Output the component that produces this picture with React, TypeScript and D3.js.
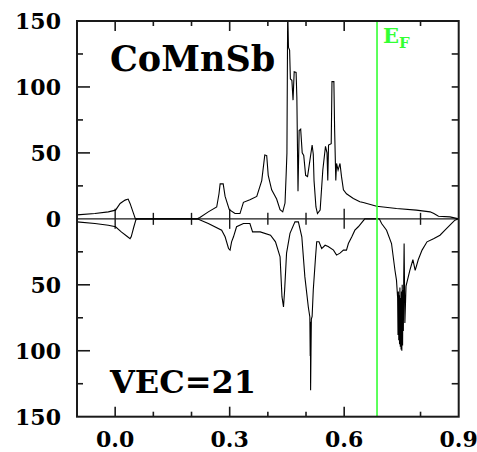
import React from "react";
import * as d3 from "d3";

// Spin-up DOS (energy, states)
const upEnergy = [
  -0.1, -0.053, -0.018, 0.001, 0.013, 0.026, 0.034, 0.039, 0.048, 0.053,
  0.215, 0.222, 0.244, 0.266, 0.272, 0.275, 0.283, 0.288, 0.299, 0.314,
  0.327, 0.336, 0.353, 0.371, 0.384, 0.392, 0.397, 0.401, 0.41, 0.423,
  0.432, 0.439, 0.445, 0.448, 0.45, 0.452, 0.454, 0.457, 0.459, 0.463,
  0.466, 0.469, 0.474, 0.476, 0.479, 0.482, 0.486, 0.49, 0.494, 0.499,
  0.504, 0.51, 0.516, 0.519, 0.521, 0.526, 0.53, 0.537, 0.544, 0.551,
  0.555, 0.557, 0.559, 0.566, 0.568, 0.573, 0.575, 0.578, 0.58, 0.584,
  0.589, 0.593, 0.598, 0.606, 0.624, 0.641, 0.65, 0.685, 0.737, 0.789,
  0.825, 0.835, 0.847, 0.877, 0.9,
];
const upDos = [
  3.0, 4.1, 5.3, 6.6, 11.7, 14.2, 15.0, 11.7, 4.1, 0,
  0, 1.0, 5.3, 9.0, 19, 26.5, 26.5, 17, 7, 4,
  4, 12.5, 14.5, 17, 29, 48.5, 48, 33, 22, 15,
  7, 5.3, 12, 34, 50, 160, 130, 128, 106, 105,
  90, 111.5, 111, 92, 21, 67, 68, 50, 48, 33,
  32, 44, 56, 49, 29, 9, 4, 6.6, 37, 55,
  50, 29, 56, 57, 104, 104, 67, 29, 42, 37,
  42, 32, 22, 19, 15.5, 13, 12.4, 9.6, 7.9, 6.6,
  5.3, 4, 2, 1.5, 0,
];

// Spin-down DOS (energy, states), drawn below zero
const downEnergy = [
  -0.1, -0.053, -0.018, 0.001, 0.016, 0.03, 0.039, 0.042, 0.049, 0.054,
  0.056, 0.215, 0.244, 0.279, 0.288, 0.297, 0.301, 0.305, 0.31, 0.318,
  0.336, 0.353, 0.36, 0.38, 0.407, 0.42, 0.432, 0.437, 0.441, 0.444,
  0.449, 0.458, 0.471, 0.48, 0.489, 0.497, 0.506, 0.51, 0.511, 0.5115,
  0.512, 0.513, 0.514,
  0.516, 0.519, 0.525, 0.528, 0.534, 0.541, 0.55, 0.558, 0.572, 0.58,
  0.589, 0.598, 0.606, 0.611, 0.62, 0.628, 0.637, 0.654, 0.692, 0.698,
  0.711, 0.724, 0.733, 0.737, 0.74, 0.741, 0.742, 0.743, 0.744, 0.745,
  0.746, 0.747, 0.748, 0.749, 0.75, 0.751, 0.752, 0.753, 0.754, 0.755,
  0.756, 0.757, 0.759, 0.762, 0.772, 0.78, 0.786, 0.794, 0.804,
  0.817, 0.834, 0.851, 0.864, 0.877, 0.89, 0.9,
];
const downDos = [
  2.3, 3.5, 4.8, 6, 9.9, 13, 15, 13.6, 6, 1,
  0, 0, 3.5, 8.6, 13.6, 22.5, 23.7, 17.4, 13.6, 6,
  3.5, 3.5, 9.9, 9.9, 12.4, 17.4, 28.8, 59, 66.8, 54,
  26, 11, 2.3, 2.3, 13.6, 44, 66.8, 74.4, 104, 78,
  130, 102, 76,
  74, 54, 28.8, 17.4, 17.4, 22.5, 20, 21, 23.7, 27.5,
  26, 23.7, 23.7, 18.7, 13.6, 8.6, 6, 0, 0, 3.5,
  8.6, 18.7, 39, 46.5, 60, 88, 55, 92, 58, 95,
  52, 97, 60, 99, 55, 100, 50, 96, 54, 85,
  45, 18.7, 79, 51, 39, 31, 39, 31, 23.7,
  17.4, 15, 12.4, 8.6, 4.8, 1, 0,
];

const xLabelTicks = [0.0, 0.3, 0.6, 0.9];
const xMinorTicks = [0.1, 0.2, 0.4, 0.5, 0.8];
const xMajorInner = [0.0, 0.3, 0.6];
const yLabelTicks = [150, 100, 50, 0, -50, -100, -150];
const yMajorTicks = [100, 50, -50, -100];
const yMinorTicks = [125, 75, 25, -25, -75, -125];
const fermiEnergy = 0.686;
const compound = "CoMnSb";
const vecLabel = "VEC=21";

export default function App() {
  const W = 477, H = 452;
  const L = 77, R = 458.7, T = 21, B = 416.7;
  const x = d3.scaleLinear().domain([-0.1, 0.9]).range([L, R]);
  const y = d3.scaleLinear().domain([-150, 150]).range([B, T]);
  const upPts = upEnergy.map((e, i) => [e, upDos[i]] as [number, number]);
  const dnPts = downEnergy.map((e, i) => [e, -downDos[i]] as [number, number]);
  const line = d3.line<[number, number]>().x(d => x(d[0])).y(d => y(d[1]));
  const font = "DejaVu Serif";
  const frameColor = "#1a1a1a";
  const green = "#33ff33";
  const fmtX = (v: number) => v.toFixed(1);
  return (
    <svg width={W} height={H} style={{ position: "absolute", left: 0, top: 0, background: "#fff" }}>
      <defs>
        <clipPath id="plotclip">
          <rect x={L} y={T} width={R - L} height={B - T} />
        </clipPath>
      </defs>
      <line x1={L} x2={R} y1={y(0)} y2={y(0)} stroke={frameColor} strokeWidth={1.4} />
      {xMinorTicks.map(v => (
        <line key={"zm" + v} x1={x(v)} x2={x(v)} y1={y(0) - 6} y2={y(0) + 6} stroke={frameColor} strokeWidth={1.4} />
      ))}
      {xMajorInner.map(v => (
        <line key={"zM" + v} x1={x(v)} x2={x(v)} y1={y(0) - 10} y2={y(0) + 10} stroke={frameColor} strokeWidth={1.4} />
      ))}
      <g clipPath="url(#plotclip)">
        <path d={line(upPts) || ""} fill="none" stroke="#000" strokeWidth={1.1} />
        <path d={line(dnPts) || ""} fill="none" stroke="#000" strokeWidth={1.1} />
      </g>
      <line x1={x(fermiEnergy)} x2={x(fermiEnergy)} y1={T} y2={B} stroke={green} strokeWidth={1.6} />
      <rect x={L} y={T} width={R - L} height={B - T} fill="none" stroke={frameColor} strokeWidth={2} />
      {xMinorTicks.map(v => (
        <g key={"xm" + v}>
          <line x1={x(v)} x2={x(v)} y1={T} y2={T + 5} stroke={frameColor} strokeWidth={1.6} />
          <line x1={x(v)} x2={x(v)} y1={B} y2={B - 5} stroke={frameColor} strokeWidth={1.6} />
        </g>
      ))}
      {xMajorInner.map(v => (
        <g key={"xM" + v}>
          <line x1={x(v)} x2={x(v)} y1={T} y2={T + 10} stroke={frameColor} strokeWidth={1.6} />
          <line x1={x(v)} x2={x(v)} y1={B} y2={B - 10} stroke={frameColor} strokeWidth={1.6} />
        </g>
      ))}
      {yMajorTicks.map(v => (
        <g key={"yM" + v}>
          <line x1={L} x2={L + 13} y1={y(v)} y2={y(v)} stroke={frameColor} strokeWidth={1.6} />
          <line x1={R} x2={R - 7} y1={y(v)} y2={y(v)} stroke={frameColor} strokeWidth={1.6} />
        </g>
      ))}
      {yMinorTicks.map(v => (
        <g key={"ym" + v}>
          <line x1={L} x2={L + 6} y1={y(v)} y2={y(v)} stroke={frameColor} strokeWidth={1.6} />
          <line x1={R} x2={R - 7} y1={y(v)} y2={y(v)} stroke={frameColor} strokeWidth={1.6} />
        </g>
      ))}
      {yLabelTicks.map(v => (
        <text key={"yl" + v} x={61} y={y(v)} dy="0.36em" textAnchor="end" fontFamily={font}
          fontWeight="bold" fontSize={22} fill="#000">{Math.abs(v)}</text>
      ))}
      {xLabelTicks.map(v => (
        <text key={"xl" + v} x={x(v)} y={447} textAnchor="middle" fontFamily={font}
          fontWeight="bold" fontSize={22} fill="#000">{fmtX(v)}</text>
      ))}
      <text x={110} y={71} fontFamily={font} fontWeight="bold" fontSize={35} fill="#000">{compound}</text>
      <text x={110} y={393} fontFamily={font} fontWeight="bold" fontSize={32} fill="#000">{vecLabel}</text>
      <text x={383} y={43} fontFamily={font} fontWeight="bold" fontSize={21} fill={green}>
        E<tspan fontSize={15} dy={5}>F</tspan>
      </text>
    </svg>
  );
}
